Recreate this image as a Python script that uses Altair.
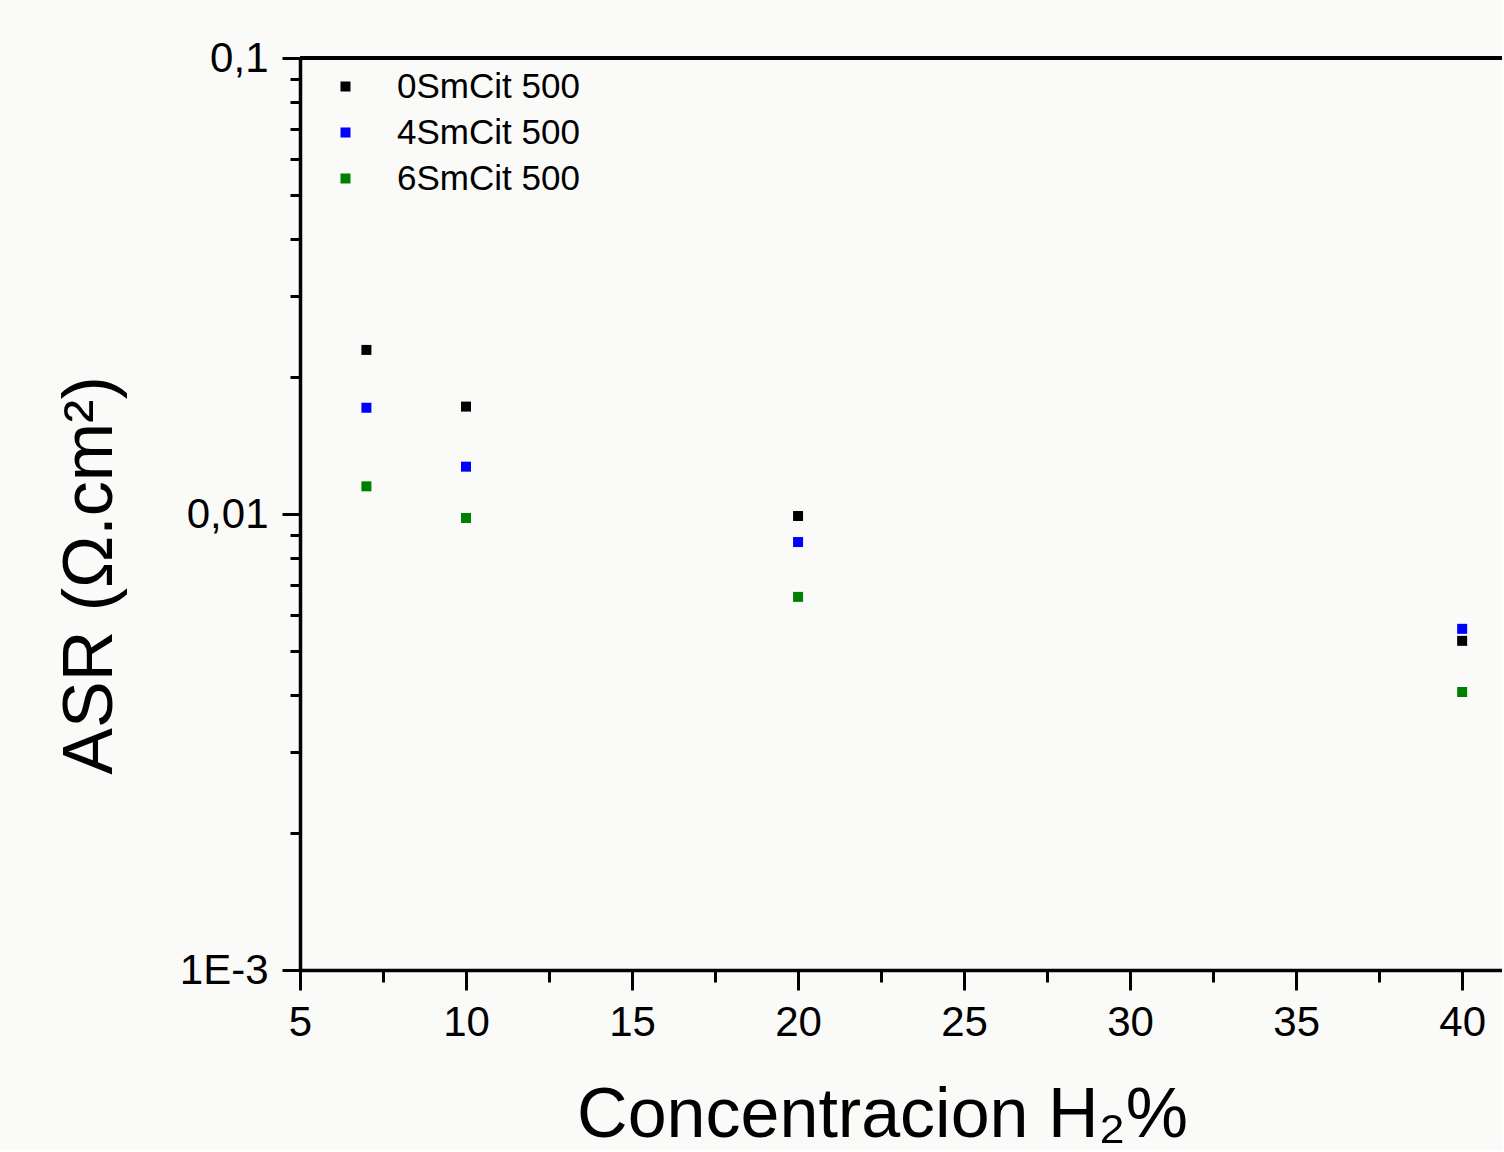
import altair as alt
import pandas as pd

# ---- data ----
concentration = [7, 10, 20, 40]
asr_0smcit = [0.0229, 0.0172, 0.0099, 0.00527]
asr_4smcit = [0.0171, 0.0127, 0.00868, 0.0056]
asr_6smcit = [0.0115, 0.0098, 0.00658, 0.00407]
series_names = ["0SmCit 500", "4SmCit 500", "6SmCit 500"]
series_colors = ["#000000", "#0000ff", "#008000"]

x_tick_values = [5, 7.5, 10, 12.5, 15, 17.5, 20, 22.5, 25, 27.5, 30, 32.5, 35, 37.5, 40]
y_tick_values = [0.001, 0.002, 0.003, 0.004, 0.005, 0.006, 0.007, 0.008, 0.009,
                 0.01, 0.02, 0.03, 0.04, 0.05, 0.06, 0.07, 0.08, 0.09, 0.1]

rows = []
for name, vals in zip(series_names, [asr_0smcit, asr_4smcit, asr_6smcit]):
    for c, v in zip(concentration, vals):
        rows.append({"conc": c, "asr": v, "series": name})
df = pd.DataFrame(rows)

W = 1202
H = 912
FONT = "Liberation Sans"

x_axis = alt.Axis(
    values=x_tick_values,
    labelExpr="datum.value % 5 == 0 ? datum.label : ''",
    tickSize={"condition": {"test": "datum.value % 5 == 0", "value": 20}, "value": 12},
    title="Concentracion H₂%",
    titleX=582,
    titleY=166,
    titleAlign="center",
    titleBaseline="alphabetic",
    titleFontSize=70,
    titleFontWeight="normal",
    labelPadding=12,
    labelFlush=False,
    labelOverlap=False,
    grid=False,
)

y_axis = alt.Axis(
    values=y_tick_values,
    labelExpr="datum.value == 0.1 ? '0,1' : (datum.value == 0.01 ? '0,01' : (datum.value == 0.001 ? '1E-3' : ''))",
    tickSize={"condition": {"test": "datum.value == 0.1 || datum.value == 0.01 || datum.value == 0.001", "value": 18}, "value": 10},
    title="ASR (Ω.cm²)",
    titleAngle=270,
    titleX=-210,
    titleY=517,
    titleAlign="center",
    titleBaseline="middle",
    titleFontSize=70,
    titleFontWeight="normal",
    labelPadding=14,
    labelFlush=False,
    labelOverlap=False,
    grid=False,
)

points = alt.Chart(df).mark_square(size=100, opacity=1).encode(
    x=alt.X("conc:Q", scale=alt.Scale(domain=[5, 41.2], nice=False, zero=False), axis=x_axis),
    y=alt.Y("asr:Q", scale=alt.Scale(type="log", domain=[0.001, 0.1], nice=False), axis=y_axis),
    color=alt.Color(
        "series:N",
        scale=alt.Scale(domain=series_names, range=series_colors),
        title=None,
        legend=alt.Legend(
            orient="none",
            legendX=28,
            legendY=11,
            symbolType="square",
            symbolSize=100,
            symbolStrokeWidth=0,
            labelFontSize=35,
            labelFont=FONT,
            labelColor="#000000",
            labelOffset=34,
            labelLimit=1000,
            rowPadding=10,
            padding=0,
        ),
    ),
)

top_border = alt.Chart(df).mark_rule(color="#000000", strokeWidth=3.5).encode(
    x=alt.value(0), x2=alt.value(W), y=alt.value(0)
)

chart = alt.layer(points, top_border).properties(
    width=W,
    height=H,
    padding={"left": 300, "top": 58, "right": 0, "bottom": 180},
    autosize=alt.AutoSizeParams(type="none"),
    background="#fafaf8",
).configure_view(
    stroke="transparent"
).configure_axis(
    domainColor="#000000",
    domainWidth=3.5,
    tickColor="#000000",
    tickWidth=3,
    labelFont=FONT,
    labelFontSize=42,
    labelColor="#000000",
    titleFont=FONT,
    titleColor="#000000",
)

chart.save("out.html", embed_options={"renderer": "svg", "actions": False})
